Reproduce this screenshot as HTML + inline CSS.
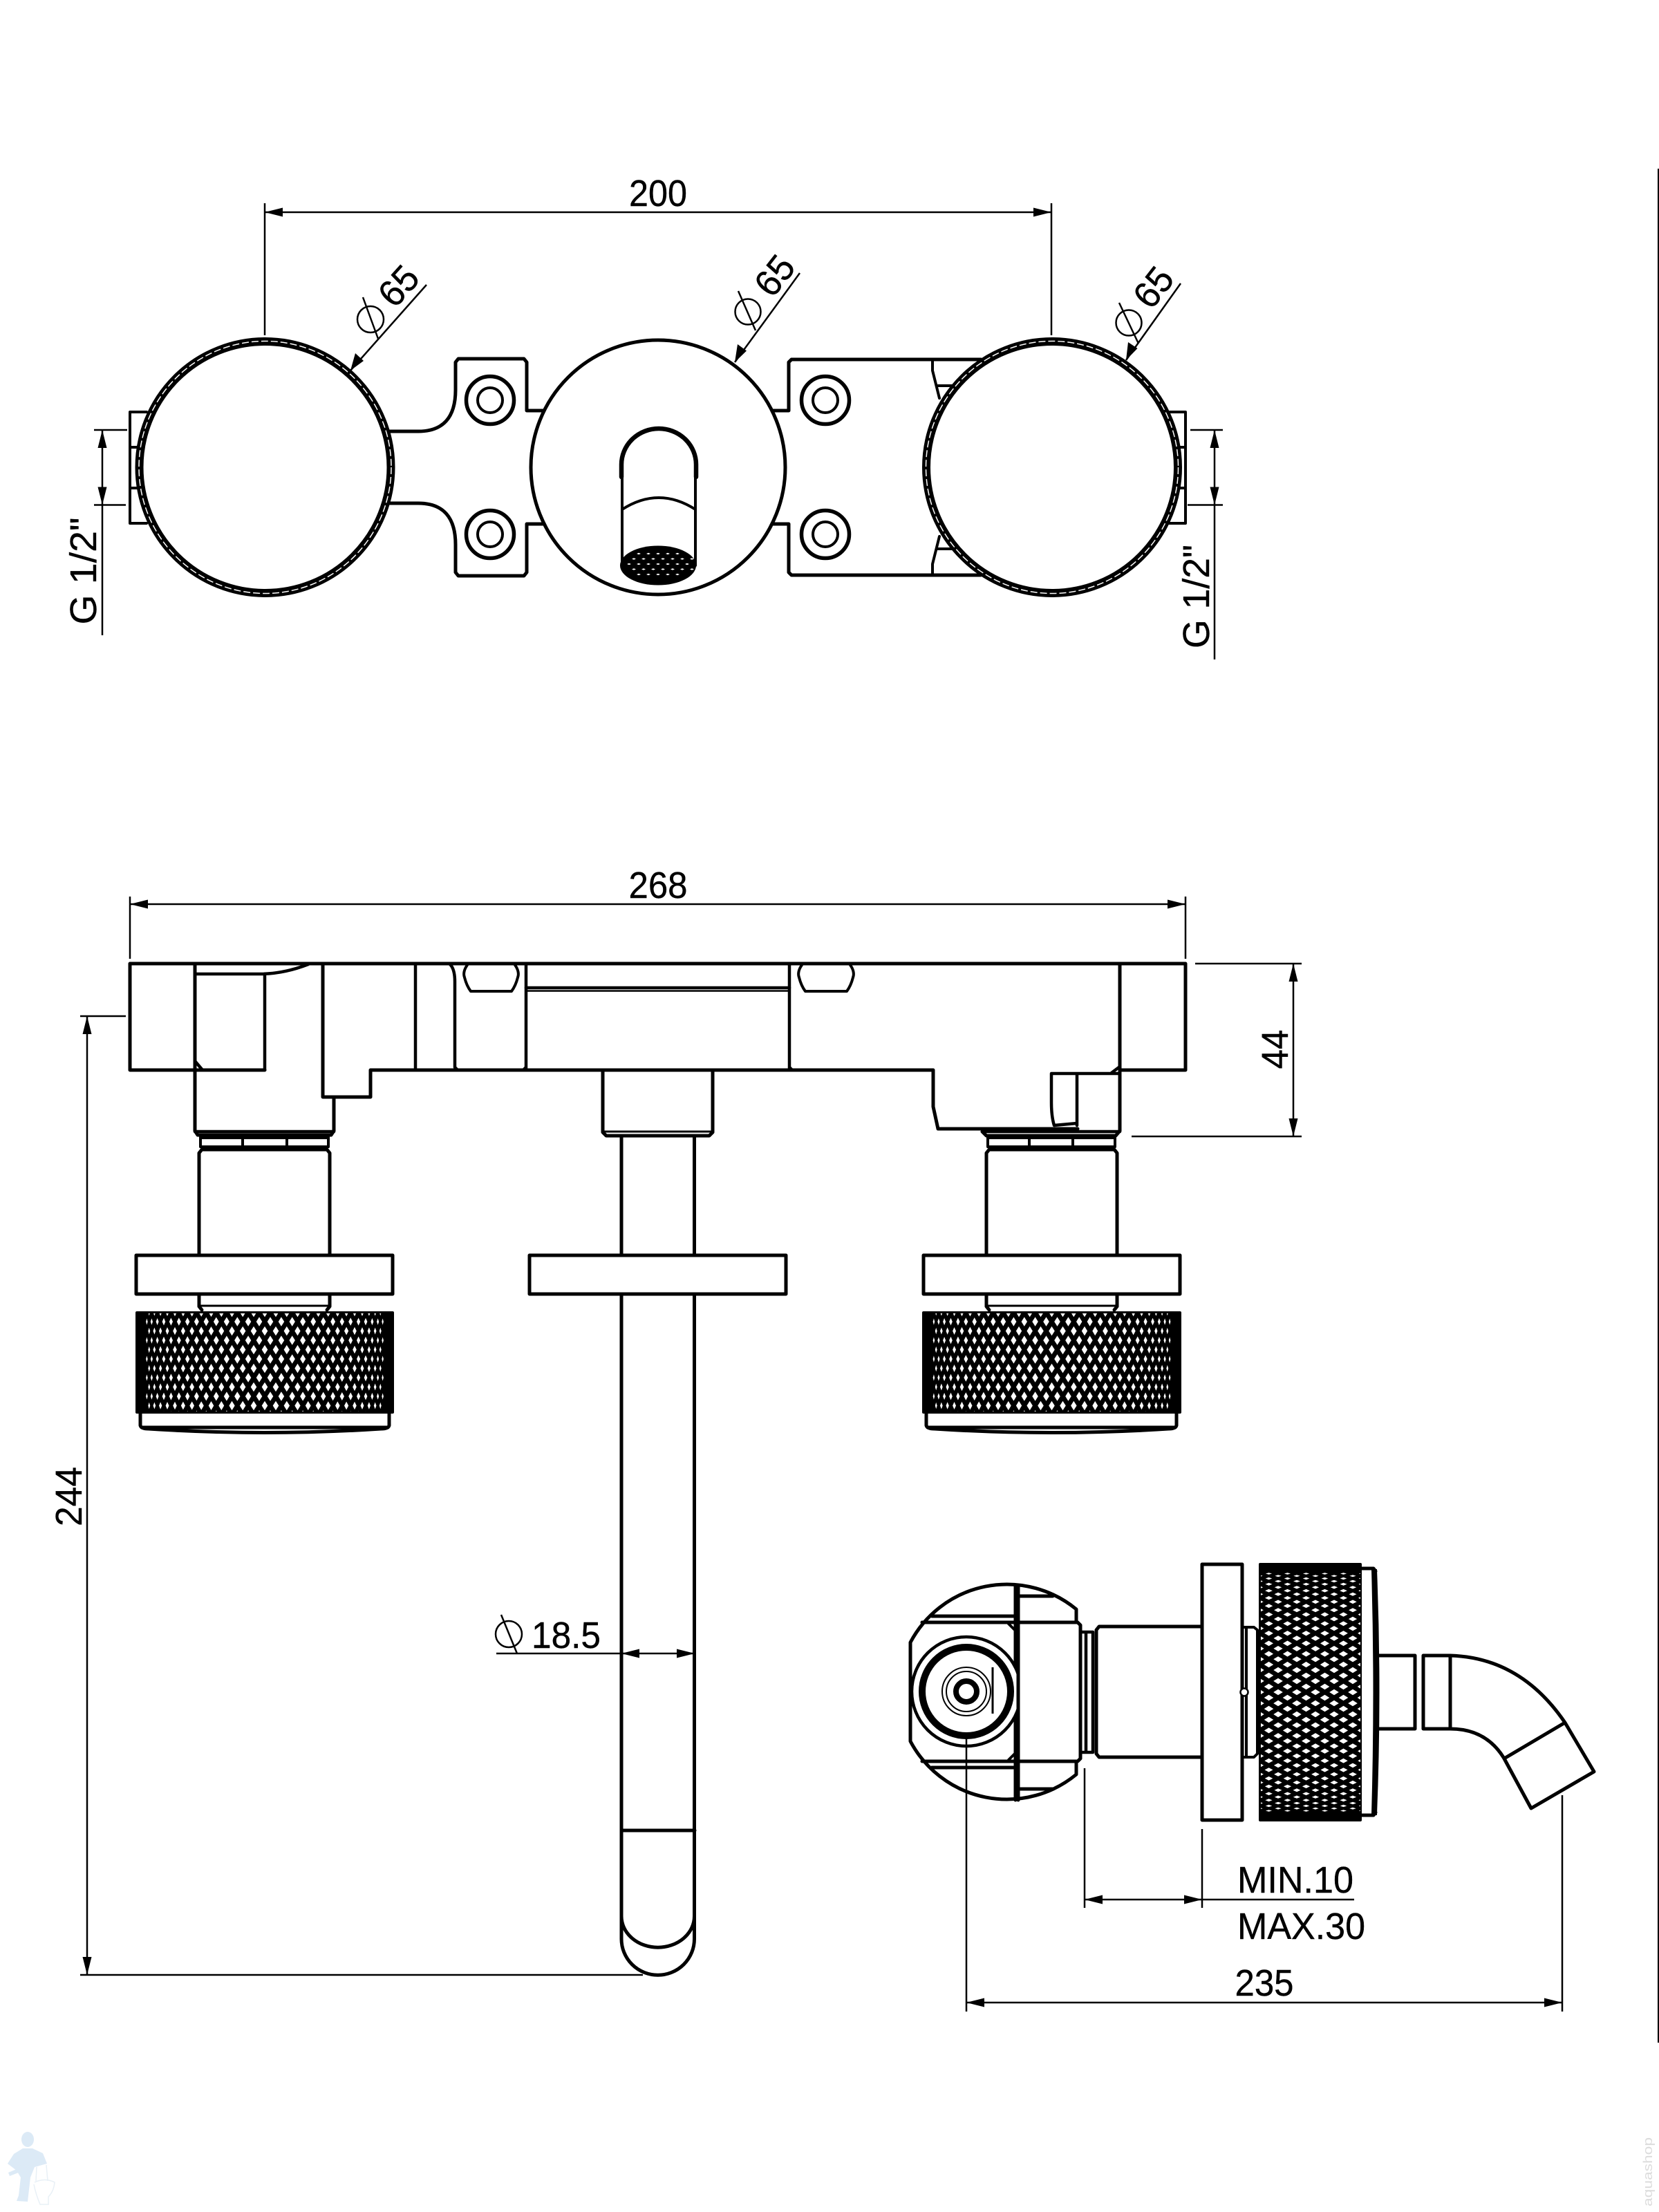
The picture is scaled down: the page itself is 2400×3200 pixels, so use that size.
<!DOCTYPE html>
<html><head><meta charset="utf-8"><style>
html,body{margin:0;padding:0;background:#fff}
svg{display:block}
text{font-family:"Liberation Sans",sans-serif;fill:#000;font-size:54px;stroke:#000;stroke-width:.4}
.m{fill:none;stroke:#000;stroke-width:5;stroke-linejoin:round;stroke-linecap:round}
.w{fill:#fff;stroke:#000;stroke-width:5;stroke-linejoin:round}
.t{fill:none;stroke:#000;stroke-width:2.5}
.a{fill:#000;stroke:none}
</style></head><body>
<svg xmlns="http://www.w3.org/2000/svg" width="2400" height="3200" viewBox="0 0 2400 3200">
<defs>
<clipPath id="c1"><rect x="197" y="1900" width="372" height="142"/></clipPath>
<clipPath id="c2"><rect x="1335" y="1900" width="373" height="142"/></clipPath>
<clipPath id="c3"><rect x="1824" y="2264" width="144" height="368"/></clipPath>
</defs>
<rect width="2400" height="3200" fill="#fff"/>
<rect x="2398" y="244" width="3" height="2711" fill="#000"/>

<!-- TOP VIEW dims -->
<path class="t" d="M383 294V485M1521 294V485M383 307H1521"/>
<path class="a" d="M383 307l26-6.500v13zM1521 307l-26-6.500v13z"/>
<text x="952" y="298" text-anchor="middle" textLength="84" lengthAdjust="spacingAndGlyphs">200</text>

<!-- tabs left/right -->
<path class="m" style="stroke-width:4" d="M212 596H188V757H212M188 647H200M188 706H200"/>
<path class="m" style="stroke-width:4" d="M1690 596H1715V757H1690M1715 647H1703M1715 706H1703"/>

<!-- brackets -->
<path class="m" d="M562 624H605Q659 624 659 564V524L663 519H758L762 524V594H790"/>
<path class="m" d="M562 728H605Q659 728 659 788V828L663 833H758L762 828V758H790"/>
<path class="m" d="M1118 594H1141V524L1145 520H1419"/>
<path class="m" d="M1118 758H1141V828L1145 832H1419"/>
<path class="m" style="stroke-width:4" d="M1349 520V536L1359 576M1357 558H1386M1349 832V816L1359 776M1357 794H1386"/>
<g fill="none" stroke="#000">
<circle cx="709" cy="579" r="34.500" stroke-width="5.500"/><circle cx="709" cy="579" r="18" stroke-width="4"/>
<circle cx="709" cy="773" r="34.500" stroke-width="5.500"/><circle cx="709" cy="773" r="18" stroke-width="4"/>
<circle cx="1194" cy="579" r="34.500" stroke-width="5.500"/><circle cx="1194" cy="579" r="18" stroke-width="4"/>
<circle cx="1194" cy="773" r="34.500" stroke-width="5.500"/><circle cx="1194" cy="773" r="18" stroke-width="4"/>
</g>

<!-- knobs -->
<circle cx="383.500" cy="676" r="182" fill="#fff" stroke="#000" stroke-width="12"/>
<circle cx="383.500" cy="676" r="182.500" fill="none" stroke="#fff" stroke-width="1.500" stroke-dasharray="10 4"/>
<circle cx="1522" cy="676" r="182" fill="#fff" stroke="#000" stroke-width="12"/>
<circle cx="1522" cy="676" r="182.500" fill="none" stroke="#fff" stroke-width="1.500" stroke-dasharray="10 4"/>
<circle cx="952" cy="676" r="184" fill="#fff" stroke="#000" stroke-width="5"/>

<!-- spout top -->
<path class="m" style="stroke-width:6.500" d="M899 690V672A54 52 0 0 1 1007 672V690"/>
<path class="m" style="stroke-width:4" d="M900 690V818M1006 690V818M900 737Q953 703 1006 737"/>
<ellipse cx="952" cy="818" rx="55" ry="28.500" fill="#000"/>
<path id="mesh" fill="#fff" d=""/>

<!-- leaders Ø65 -->
<path class="t" d="M507 536L617 412M1063 524L1157 395M1629 521L1708 410"/>
<path class="a" d="M507 536l7-25 12 11zM1063 524l4-26 13 9.500zM1629 521l3-26 13.500 9z"/>
<g class="t" style="stroke-width:2.500">
<circle cx="536" cy="462" r="19"/><path d="M525 430L547 490"/>
<circle cx="1082" cy="451" r="18.500"/><path d="M1068 421L1093 478"/>
<circle cx="1633" cy="467" r="18.500"/><path d="M1619 438L1647 497"/>
</g>
<text transform="translate(577 414) rotate(-48)" y="18" text-anchor="middle" textLength="58" lengthAdjust="spacingAndGlyphs">65</text>
<text transform="translate(1121 399) rotate(-52)" y="18" text-anchor="middle" textLength="58" lengthAdjust="spacingAndGlyphs">65</text>
<text transform="translate(1669 416) rotate(-52)" y="18" text-anchor="middle" textLength="58" lengthAdjust="spacingAndGlyphs">65</text>

<!-- G 1/2 -->
<path class="t" d="M136 622H184M136 730.500H182M148 622V919"/>
<path class="a" d="M148 622l-6.500 26h13zM148 730.500l-6.500-26h13z"/>
<text transform="translate(139 826) rotate(-90)" text-anchor="middle" textLength="155" lengthAdjust="spacingAndGlyphs">G 1/2"</text>
<path class="t" d="M1722 622H1769M1718 730.500H1769M1757 622V954"/>
<path class="a" d="M1757 622l-6.500 26h13zM1757 730.500l-6.500-26h13z"/>
<text transform="translate(1749 863) rotate(-90)" text-anchor="middle" textLength="150" lengthAdjust="spacingAndGlyphs">G 1/2"</text>

<!-- FRONT VIEW dims -->
<path class="t" d="M188 1297V1387M1715 1297V1387M188 1308H1715"/>
<path class="a" d="M188 1308l26-6.500v13zM1715 1308l-26-6.500v13z"/>
<text x="952" y="1299" text-anchor="middle" textLength="85" lengthAdjust="spacingAndGlyphs">268</text>
<path class="t" d="M1729 1394H1883M1637 1644H1883M1871 1394V1644"/>
<path class="a" d="M1871 1394l-6.500 26h13zM1871 1644l-6.500-26h13z"/>
<text transform="translate(1863 1518) rotate(-90)" text-anchor="middle" textLength="57" lengthAdjust="spacingAndGlyphs">44</text>
<path class="t" d="M116 1470H182M116 2857H930M126 1470V2857"/>
<path class="a" d="M126 1470l-6.500 26h13zM126 2857l-6.500-26h13z"/>
<text transform="translate(118 2165) rotate(-90)" text-anchor="middle" textLength="86" lengthAdjust="spacingAndGlyphs">244</text>

<!-- pipe -->
<path class="m" d="M899 1643V2805A52.500 52 0 0 0 1004.500 2805V1643"/>
<path class="m" d="M899 2648H1005M899 2772A52.500 45 0 0 0 1004.500 2772"/>

<!-- body -->
<path class="m" d="M467 1587V1394M188 1548V1394H1715V1548H1620M188 1548H383M282 1394V1636L286 1642H479L483 1636V1587H467M467 1587H536V1548H1350V1601L1357 1633H1559"/>
<path class="m" style="stroke-width:4.500" d="M282 1637H483M383 1410V1548M282 1409H375Q410 1409 446 1395M282 1535L293 1548M601 1394V1548M651 1395Q658 1402 658 1420V1544L662 1548M761 1394V1548M757 1548L761 1544M1142 1394V1548M1146 1548L1142 1544"/>
<path class="m" style="stroke-width:4" d="M676 1396Q669 1406 672 1414Q675 1426 681 1434H740Q746 1426 749 1414Q752 1406 745 1396M1160 1396Q1153 1406 1156 1414Q1159 1426 1165 1434H1225Q1231 1426 1234 1414Q1237 1406 1230 1396"/>
<path class="m" style="stroke-width:4.500" d="M761 1429H1142"/><path class="m" style="stroke-width:2.500" d="M761 1433.500H1142"/>
<!-- centre stub -->
<path class="m" d="M872 1548V1638L877 1643H1026L1031 1638V1548"/>
<path class="m" style="stroke-width:3" d="M873 1637H1030"/>
<!-- right body -->
<path class="m" d="M1620 1394V1636L1614 1643H1427L1421 1637"/>
<path class="m" style="stroke-width:4.500" d="M1521 1553V1595Q1521 1615 1525 1628L1558 1625M1558 1553V1628M1521 1553H1620M1608 1552L1620 1543M1421 1637H1620"/>

<!-- left stack -->
<path class="m" style="stroke-width:4" d="M290 1645V1659H475V1645M351 1645V1659M415 1645V1659M290 1646H475"/>
<path class="m" d="M288 1815V1668L292 1663H473L477 1668V1815"/>
<rect class="w" x="197" y="1816" width="371" height="56"/>
<path class="m" d="M288 1872V1890L292 1895M477 1872V1890L473 1895"/>
<path class="m" style="stroke-width:3" d="M290 1889H475"/>
<rect x="196" y="1897" width="374" height="148" fill="#000" rx="2"/>
<path id="k1" fill="#fff" clip-path="url(#c1)" d=""/>
<path class="m" d="M203 2045V2062Q204 2067 215 2067Q383 2078 551 2067Q562 2067 563 2062V2045"/>
<path class="m" d="M205 2065H561"/>

<!-- right stack -->
<path class="m" style="stroke-width:4" d="M1429 1645V1659H1613V1645M1489 1645V1659M1552 1645V1659M1429 1646H1613"/>
<path class="m" d="M1427 1815V1668L1431 1663H1612L1616 1668V1815"/>
<rect class="w" x="1336" y="1816" width="371" height="56"/>
<path class="m" d="M1427 1872V1890L1431 1895M1616 1872V1890L1612 1895"/>
<path class="m" style="stroke-width:3" d="M1429 1889H1614"/>
<rect x="1334" y="1897" width="375" height="148" fill="#000" rx="2"/>
<path id="k2" fill="#fff" clip-path="url(#c2)" d=""/>
<path class="m" d="M1340 2045V2062Q1341 2067 1352 2067Q1521 2078 1690 2067Q1701 2067 1702 2062V2045"/>
<path class="m" d="M1342 2065H1700"/>

<!-- plate centre -->
<rect class="w" x="766" y="1816" width="371" height="56"/>

<!-- Ø18.5 -->
<path class="t" d="M718 2392H1004"/>
<path class="a" d="M899 2392l26-6.500v13zM1005 2392l-26-6.500v13z"/>
<circle class="t" cx="736" cy="2364" r="19"/><path class="t" d="M725 2336L748 2392"/>
<text x="769" y="2384" textLength="100" lengthAdjust="spacingAndGlyphs">18.5</text>

<!-- SIDE VIEW -->
<path class="m" d="M1557 2347V2328A158 158 0 0 0 1317 2376V2519A158 158 0 0 0 1557 2567V2548"/>
<path class="m" d="M1469 2294V2604M1348 2338H1469M1334 2347H1469M1348 2557H1469M1334 2548H1469M1473 2309H1523M1473 2588H1523"/>
<path class="m" style="stroke-width:4" d="M1459 2349L1471 2361M1459 2546L1471 2534"/>
<circle cx="1398" cy="2447" r="79" fill="#fff" stroke="#000" stroke-width="4.500"/>
<circle cx="1398" cy="2447" r="64" fill="#fff" stroke="#000" stroke-width="10"/>
<g fill="none" stroke="#000">
<circle cx="1398" cy="2447" r="35" stroke-width="2"/><circle cx="1398" cy="2447" r="29" stroke-width="2"/>
<circle cx="1398" cy="2447" r="15" stroke-width="8"/>
<path d="M1436 2412V2479" stroke-width="3"/>
</g>
<path class="w" d="M1473 2347H1559L1563 2351V2544L1559 2548H1473Z"/>
<path class="m" d="M1473 2294V2604"/>
<path class="m" style="stroke-width:4.500" d="M1563 2361H1581V2535H1563M1571 2361V2535"/>
<path class="w" d="M1738 2353H1590L1586 2358V2537L1590 2542H1738"/>
<rect class="w" x="1739" y="2263" width="58" height="370"/>
<path class="m" style="stroke-width:4" d="M1797 2354H1814L1819 2358V2537L1814 2542H1797M1803 2354V2542"/>
<circle cx="1800" cy="2448" r="5.500" class="w" style="stroke-width:2.500"/>
<rect x="1821" y="2261" width="149" height="374" fill="#000" rx="2"/>
<path id="k3" fill="#fff" clip-path="url(#c3)" d=""/>
<path class="m" d="M1970 2269H1987L1990 2273"/><path class="m" d="M1970 2626H1987L1990 2622"/>
<path d="M1985 2271L1991 2271Q1998 2448 1991 2625L1985 2625Q1990 2448 1985 2271Z" fill="#000" stroke="#000" stroke-width="2"/>
<path class="m" d="M1995 2395H2047V2501H1995"/>
<path class="m" d="M2059 2395V2501M2059 2395H2098Q2200 2398 2264 2492L2306 2563L2215 2616L2176 2544Q2150 2501 2098 2501H2059M2098 2395V2501M2264 2492L2176 2544"/>

<!-- side dims -->
<path class="t" d="M1398 2510V2910M2260 2597V2910M1398 2897H2260M1569 2558V2760M1739 2646V2760M1569 2748H1959"/>
<path class="a" d="M1398 2897l26-6.500v13zM2260 2897l-26-6.500v13zM1569 2748l26-6.500v13zM1739 2748l-26-6.500v13z"/>
<text x="1790" y="2738" textLength="168" lengthAdjust="spacingAndGlyphs">MIN.10</text>
<text x="1790" y="2805" textLength="185" lengthAdjust="spacingAndGlyphs">MAX.30</text>
<text x="1829" y="2887" text-anchor="middle" textLength="85" lengthAdjust="spacingAndGlyphs">235</text>

<!-- watermarks -->
<g fill="#dceaf6">
<ellipse cx="40" cy="3095" rx="9" ry="11"/>
<path d="M33 3108L20 3116L11 3130L24 3140L30 3150L27 3176L24 3184L40 3185L44 3150L50 3135L68 3130L62 3115L47 3108Z"/>
<path d="M12 3143L38 3132L42 3137L14 3148Z"/>
</g>
<path fill="none" stroke="#e8f0f6" stroke-width="1.500" d="M53 3135L52 3155M67 3132L69 3155M50 3157Q65 3150 79 3157Q78 3170 70 3178V3189H58Q52 3175 49 3160"/>
<text transform="translate(2390 3142) rotate(-90)" text-anchor="middle" textLength="100" lengthAdjust="spacingAndGlyphs" style="font-size:18px;fill:#dcdcdc;stroke:none">aquashop</text>
</svg>
<script>
(function(){
function dia(x,y,hw,hh){return 'M'+(x-hw).toFixed(1)+' '+y.toFixed(1)+'L'+x.toFixed(1)+' '+(y-hh).toFixed(1)+'L'+(x+hw).toFixed(1)+' '+y.toFixed(1)+'L'+x.toFixed(1)+' '+(y+hh).toFixed(1)+'Z';}
var st=0.086;
function front(id,cx,R){
  var d='';
  for(var k=-1;k<=10;k++){
    var y=1912+13.5*k,ph=(k%2===0)?0.5:0;
    for(var j=-20;j<=20;j++){
      var th=(j+ph)*st,s=Math.sin(th),c=Math.cos(th);
      if(Math.abs(th)>1.57||Math.abs(s)>0.93)continue;
      d+=dia(cx+R*s,y,4.3*Math.pow(c,1.3),6.8*(0.45+0.55*c));
    }
  }
  document.getElementById(id).setAttribute('d',d);
}
front('k1',383,186);
front('k2',1521.5,186);
var d='';
for(var i=-2;i<=9;i++){
  var x=1849+13.5*i,ph=(Math.abs(i)%2===0)?0:0.5;
  for(var j=-20;j<=20;j++){
    var th=(j+ph)*st,s=Math.sin(th),c=Math.cos(th);
    if(Math.abs(th)>1.57||Math.abs(s)>0.93)continue;
    d+=dia(x,2448+187*s,6.8*(0.45+0.55*c),4.3*Math.pow(c,1.3));
  }
}
document.getElementById('k3').setAttribute('d',d);
var m='';
for(var r=-2;r<=2;r++){
  var n=Math.round(3-Math.abs(r)*0.5);
  for(var q=-n;q<=n;q++){
    var xx=952+q*14+(r%2?7:0),yy=816+r*7.5;
    m+=dia(xx,yy,3,1.3);
  }
}
document.getElementById('mesh').setAttribute('d',m);
})();
</script>
</body></html>
